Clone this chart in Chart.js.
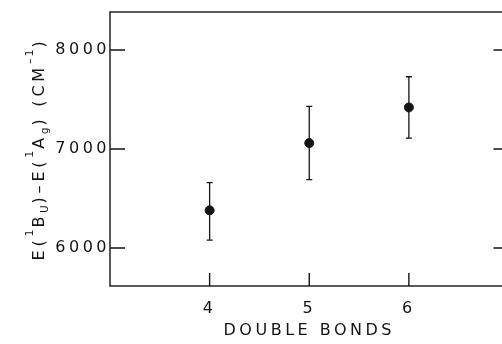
<!DOCTYPE html>
<html>
<head>
<meta charset="utf-8">
<script src="https://cdn.jsdelivr.net/npm/chart.js@4"></script>
<style>
  html, body { margin: 0; padding: 0; background: #fff; overflow: hidden; }
  #wrap { width: 514px; height: 344px; }
</style>
</head>
<body>
<div id="wrap"><canvas id="chart" width="514" height="344"></canvas></div>
<script>
// data
const bonds = [4, 5, 6];
const energy = [6380, 7060, 7420];
const errLow = [6080, 6690, 7110];
const errHigh = [6660, 7430, 7730];

const xTicks = [4, 5, 6];
const yTicks = [6000, 7000, 8000];

const ink = '#151515';
const fontFam = '"DejaVu Sans", sans-serif';

// y title with super/subscripts
const yTitleParts = [
    { t: 'E(', k: 'n' }, { t: '1', k: 'sup' }, { t: 'B', k: 'n' }, { t: 'U', k: 'sub' },
    { t: ')–E(', k: 'n' }, { t: '1', k: 'sup' }, { t: 'A', k: 'n' }, { t: 'g', k: 'sub' },
    { t: ') (CM', k: 'n' }, { t: '–1', k: 'sup' }, { t: ')', k: 'n' }
];

const framePlugin = {
    id: 'frame',
    beforeDraw(chart) {
        chart.ctx.letterSpacing = '3.5px';
    },
    afterDraw(chart) {
        const ctx = chart.ctx;
        const a = chart.chartArea;
        const xs = chart.scales.x, ys = chart.scales.y;
        ctx.save();
        ctx.strokeStyle = ink;
        ctx.lineWidth = 1.4;
        // frame
        ctx.strokeRect(a.left, a.top, a.right - a.left, a.bottom - a.top);
        // inward ticks
        ctx.beginPath();
        yTicks.forEach(v => {
            const y = ys.getPixelForValue(v);
            ctx.moveTo(a.left, y); ctx.lineTo(a.left + 15, y);
            ctx.moveTo(a.right, y); ctx.lineTo(a.right - 15, y);
        });
        xTicks.forEach(v => {
            const x = xs.getPixelForValue(v);
            ctx.moveTo(x, a.bottom); ctx.lineTo(x, a.bottom - 13);
        });
        ctx.stroke();

        // error bars
        ctx.lineWidth = 1.3;
        ctx.beginPath();
        bonds.forEach((b, i) => {
            const x = xs.getPixelForValue(b);
            const y1 = ys.getPixelForValue(errLow[i]);
            const y2 = ys.getPixelForValue(errHigh[i]);
            ctx.moveTo(x, y1); ctx.lineTo(x, y2);
            ctx.moveTo(x - 3, y1); ctx.lineTo(x + 3, y1);
            ctx.moveTo(x - 3, y2); ctx.lineTo(x + 3, y2);
        });
        ctx.stroke();

        // rotated y title
        ctx.fillStyle = ink;
        ctx.textBaseline = 'alphabetic';
        const fonts = { n: '16px ' + fontFam, sup: '11px ' + fontFam, sub: '10px ' + fontFam };
        const spacing = { n: '3.8px', sup: '2px', sub: '2px' };
        const shift = { n: 0, sup: -11, sub: 4 };
        let total = 0;
        yTitleParts.forEach(p => {
            ctx.font = fonts[p.k]; ctx.letterSpacing = spacing[p.k];
            total += ctx.measureText(p.t).width;
        });
        ctx.translate(44, (a.top + a.bottom) / 2);
        ctx.rotate(-Math.PI / 2);
        let pos = -total / 2;
        yTitleParts.forEach(p => {
            ctx.font = fonts[p.k]; ctx.letterSpacing = spacing[p.k];
            ctx.fillText(p.t, pos, shift[p.k]);
            pos += ctx.measureText(p.t).width;
        });
        ctx.restore();
    }
};

new Chart(document.getElementById('chart'), {
    type: 'scatter',
    data: {
        datasets: [{
            data: bonds.map((b, i) => ({ x: b, y: energy[i] })),
            backgroundColor: ink,
            borderColor: ink,
            pointRadius: 4.5,
            pointHoverRadius: 4.5
        }]
    },
    options: {
        responsive: false,
        animation: false,
        devicePixelRatio: 1,
        layout: { padding: { top: 12, right: 2, left: 0, bottom: 0 } },
        plugins: { legend: { display: false }, tooltip: { enabled: false } },
        scales: {
            x: {
                type: 'linear',
                min: 3, max: 7,
                grid: { display: false, drawTicks: false },
                border: { display: false },
                afterBuildTicks: s => { s.ticks = xTicks.map(v => ({ value: v })); },
                afterFit: s => { s.height = 58; },
                ticks: { color: ink, font: { family: fontFam, size: 16 }, padding: 13 },
                title: {
                    display: true, text: 'DOUBLE BONDS', color: ink,
                    font: { family: fontFam, size: 16 }, padding: { top: 0, bottom: 4 }
                }
            },
            y: {
                min: 5616, max: 8384,
                grid: { display: false, drawTicks: false },
                border: { display: false },
                afterBuildTicks: s => { s.ticks = yTicks.map(v => ({ value: v })); },
                afterFit: s => { s.width = 110; },
                ticks: {
                    color: ink, font: { family: fontFam, size: 16 }, padding: 0,
                    callback: v => String(v)
                }
            }
        }
    },
    plugins: [framePlugin]
});
</script>
</body>
</html>
